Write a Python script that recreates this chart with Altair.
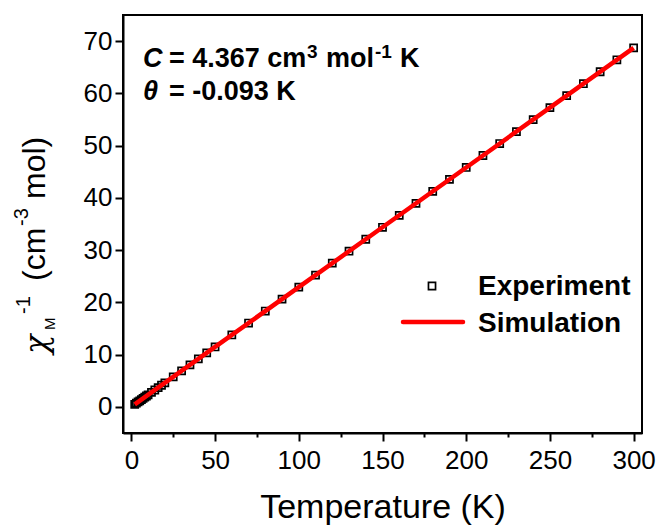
import altair as alt
import pandas as pd

# ---------------- data ----------------
T_exp = [2, 3, 4, 5, 6, 7, 8, 9, 10, 12, 14, 16, 18, 20, 25, 30, 35, 40, 45, 50,
         60, 70, 80, 90, 100, 110, 120, 130, 140, 150, 160, 170, 180, 190, 200,
         210, 220, 230, 240, 250, 260, 270, 280, 290, 300]
chi_exp = [0.48, 0.71, 0.94, 1.17, 1.39, 1.62, 1.85, 2.08, 2.31, 2.77, 3.23, 3.68,
           4.14, 4.60, 5.75, 6.89, 8.04, 9.18, 10.33, 11.47, 13.76, 16.05, 18.34,
           20.63, 22.92, 25.21, 27.50, 29.79, 32.08, 34.37, 36.66, 38.95, 41.24,
           43.53, 45.82, 48.11, 50.40, 52.69, 54.98, 57.27, 59.56, 61.85, 64.14,
           66.43, 68.72]
T_sim = [2, 50, 100, 150, 200, 250, 300]
chi_sim = [0.48, 11.47, 22.92, 34.37, 45.82, 57.27, 68.72]

x_ticks = list(range(0, 301, 25))
y_ticks = list(range(0, 71, 5))

legend_labels = ["Experiment", "Simulation"]

FONT = "Liberation Sans"

exp_df = pd.DataFrame({"T": T_exp, "chi": chi_exp})
sim_df = pd.DataFrame({"T": T_sim, "chi": chi_sim})

x_scale = alt.Scale(domain=[-5, 305], nice=False, zero=False)
y_scale = alt.Scale(domain=[-5, 75], nice=False, zero=False)

x_axis = alt.Axis(
    values=x_ticks,
    labelExpr="datum.value % 50 === 0 ? datum.label : ''",
    tickSize={"condition": {"test": "datum.value % 50 === 0", "value": 8}, "value": 4},
    tickWidth=2, tickColor="black", domainColor="black", domainWidth=2,
    labelFont=FONT, labelFontSize=26, labelColor="black", labelPadding=6,
    labelFlush=False, labelOverlap=False,
    title="Temperature (K)", titleFont=FONT, titleFontSize=34,
    titleFontWeight="normal", titleColor="black", titlePadding=17,
    grid=False,
)
y_axis = alt.Axis(
    values=y_ticks,
    labelExpr="datum.value % 10 === 0 ? datum.label : ''",
    tickSize={"condition": {"test": "datum.value % 10 === 0", "value": 8}, "value": 4},
    tickWidth=2, tickColor="black", domainColor="black", domainWidth=2,
    labelFont=FONT, labelFontSize=26, labelColor="black", labelPadding=3,
    labelFlush=False, labelOverlap=False,
    title=None, grid=False,
)

points = alt.Chart(exp_df).mark_point(
    shape="square", filled=False, color="black", size=50, strokeWidth=1.7, opacity=1
).encode(
    x=alt.X("T:Q", scale=x_scale, axis=x_axis),
    y=alt.Y("chi:Q", scale=y_scale, axis=y_axis),
)

line = alt.Chart(sim_df).mark_line(color="#ff0000", strokeWidth=4.5).encode(
    x=alt.X("T:Q", scale=x_scale),
    y=alt.Y("chi:Q", scale=y_scale),
)

one = pd.DataFrame({"a": [0]})


def txt(text, x, y, size, weight="normal", style="normal", angle=0, font=FONT):
    kw = dict(text=text, font=font, fontSize=size, fontWeight=weight,
              fontStyle=style, align="left", baseline="alphabetic", color="black")
    if angle:
        kw["angle"] = angle
    return alt.Chart(one).mark_text(**kw).encode(x=alt.value(x), y=alt.value(y))


# annotation (parameters of the fit)
ann = [
    txt("C", 20, 52, 27, "bold", "italic"),
    txt("= 4.367 cm", 46, 52, 27, "bold"),
    txt("3", 184, 43, 19, "bold"),
    txt("mol", 203, 52, 27, "bold"),
    txt("-1", 252, 43, 19, "bold"),
    txt("K", 277, 52, 27, "bold"),
    txt("\u03b8", 20, 85, 27, "bold", "italic"),
    txt("= -0.093 K", 46, 85, 27, "bold"),
]

# y-axis title built from pieces (rotated)
ytitle = [
    txt("\u03c7", -76, 354 - 15, 32, "normal", "italic", 270, "DejaVu Serif"),
    txt("M", -68, 330 - 15, 15, "normal", "normal", 270),
    txt("-1", -93, 314 - 15, 20, "normal", "normal", 270),
    txt("(cm", -78, 281 - 15, 32, "normal", "normal", 270),
    txt("-3", -95, 226 - 15, 20, "normal", "normal", 270),
    txt("mol)", -78, 199 - 15, 32, "normal", "normal", 270),
]

# legend
leg_sq = alt.Chart(one).mark_point(
    shape="square", filled=False, color="black", size=50, strokeWidth=1.7, opacity=1
).encode(x=alt.value(309), y=alt.value(271))
leg_line = alt.Chart(one).mark_rule(color="#ff0000", strokeWidth=4.5, strokeCap="round").encode(
    x=alt.value(280), x2=alt.value(340), y=alt.value(307)
)
leg_txt = [
    txt(legend_labels[0], 355, 280, 28, "bold"),
    txt(legend_labels[1], 355, 317, 28, "bold"),
]

chart = alt.layer(
    points, line, *ann, *ytitle, leg_sq, leg_line, *leg_txt
).properties(
    width=519, height=418,
    padding={"left": 123, "top": 15, "right": 17, "bottom": 97},
    autosize=alt.AutoSizeParams(type="none"),
    background="white",
).configure_view(stroke="black", strokeWidth=2)

chart.save("out.html", embed_options={"renderer": "svg", "actions": False})
